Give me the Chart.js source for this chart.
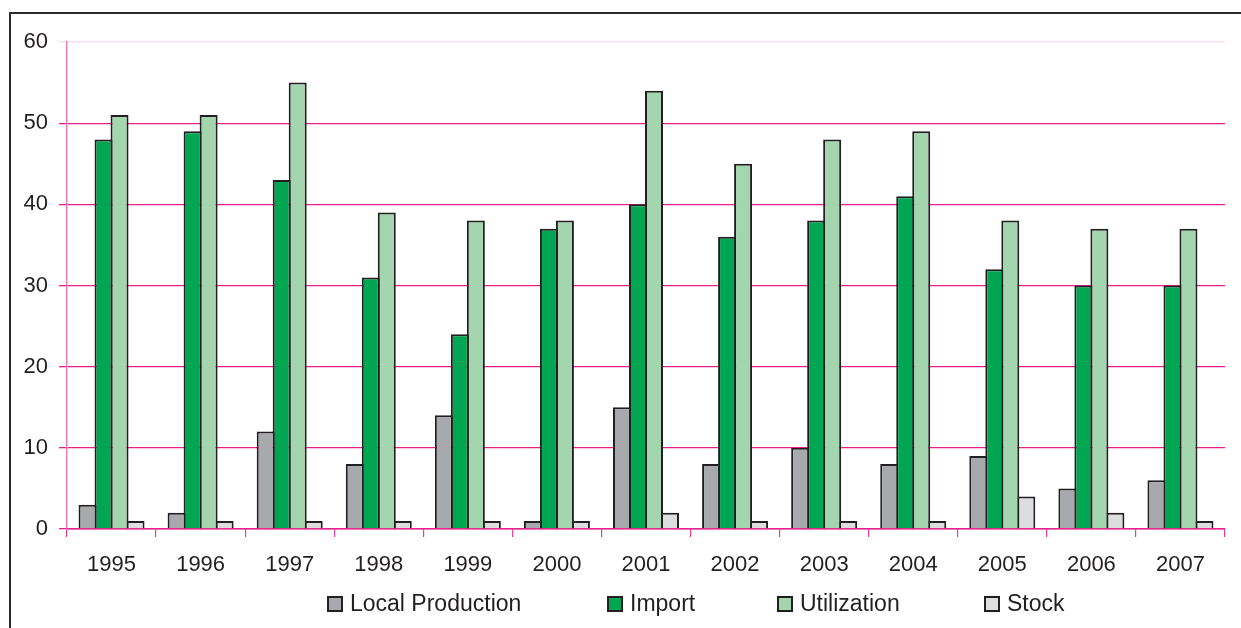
<!DOCTYPE html>
<html>
<head>
<meta charset="utf-8">
<script src="https://cdn.jsdelivr.net/npm/chart.js@4.4.1/dist/chart.umd.min.js"></script>
<style>
  html, body { margin: 0; padding: 0; background: #ffffff; }
  #wrap { position: relative; width: 1241px; height: 628px; }
  #frame {
    position: absolute; left: 9px; top: 12px; right: 0; bottom: 0;
    border-left: 2.5px solid #2b2a2a; border-top: 2.5px solid #2b2a2a;
    pointer-events: none;
  }
</style>
</head>
<body>
<div id="wrap">
  <canvas id="c" width="1241" height="628"></canvas>
  <div id="frame"></div>
</div>
<script>
// Years on the category axis
const years = ['1995','1996','1997','1998','1999','2000','2001','2002','2003','2004','2005','2006','2007'];

// Series values
const localProduction = [3, 2, 12, 8, 14, 1, 15, 8, 10, 8, 9, 5, 6];
const importValues    = [48, 49, 43, 31, 24, 37, 40, 36, 38, 41, 32, 30, 30];
const utilization     = [51, 51, 55, 39, 38, 38, 54, 45, 48, 49, 38, 37, 37];
const stock           = [1, 1, 1, 1, 1, 1, 2, 1, 1, 1, 4, 2, 1];

// Series names and colours
const seriesNames  = ['Local Production', 'Import', 'Utilization', 'Stock'];
const seriesColors = ['#a7a9ac', '#00a651', '#a3d5ae', '#dcdddf'];

// Value axis ticks
const yTicks = [0, 10, 20, 30, 40, 50, 60];

const INK = '#231f20';
const FONT = '"Liberation Sans", Arial, sans-serif';

// Legend drawn below the axis with fixed item positions
const legendX = [328, 608, 778, 985];
const legendPlugin = {
  id: 'bottomLegend',
  afterDraw(chart) {
    const ctx = chart.ctx;
    const cy = 604;
    ctx.save();
    ctx.font = '23px ' + FONT;
    ctx.textBaseline = 'middle';
    ctx.textAlign = 'left';
    chart.data.datasets.forEach((ds, i) => {
      const x = legendX[i];
      ctx.fillStyle = ds.backgroundColor;
      ctx.fillRect(x, cy - 7, 14, 14);
      ctx.lineWidth = 2;
      ctx.strokeStyle = INK;
      ctx.strokeRect(x, cy - 7, 14, 14);
      ctx.fillStyle = INK;
      ctx.fillText(ds.label, x + 22, cy + 1);
    });
    ctx.restore();
  }
};

// Neighbouring bars overlap by their border width so shared edges stay single-width
const datasets = [localProduction, importValues, utilization, stock].map((vals, i) => ({
  label: seriesNames[i],
  data: vals,
  backgroundColor: seriesColors[i],
  borderColor: INK,
  borderWidth: { top: 2, left: 2, right: 2, bottom: 0 },
  borderSkipped: false,
  categoryPercentage: 0.7185,
  barPercentage: 1.125
}));

new Chart(document.getElementById('c'), {
  type: 'bar',
  data: { labels: years, datasets },
  plugins: [legendPlugin],
  options: {
    responsive: false,
    animation: false,
    events: [],
    layout: { padding: { top: 42, right: 16, left: 0, bottom: 0 } },
    plugins: {
      legend: { display: false },
      tooltip: { enabled: false },
      title: { display: false }
    },
    scales: {
      x: {
        offset: true,
        grid: {
          offset: true,
          drawOnChartArea: false,
          drawTicks: true,
          tickLength: 8,
          color: '#ea3b95',
          lineWidth: 1.2
        },
        border: { display: true, color: '#e9208c', width: 1.5 },
        ticks: {
          color: INK,
          font: { family: FONT, size: 22 },
          padding: 15,
          maxRotation: 0
        },
        afterFit(scale) { scale.height = 99; }
      },
      y: {
        min: 0,
        max: 60,
        afterBuildTicks(scale) { scale.ticks = yTicks.map(v => ({ value: v })); },
        grid: {
          color: ctx => (ctx.tick && ctx.tick.value === 60) ? '#fbdcec' : '#e9208c',
          lineWidth: 1.3,
          drawTicks: true,
          tickLength: 8
        },
        border: { display: true, color: '#f07cb6', width: 1.5 },
        ticks: {
          color: INK,
          font: { family: FONT, size: 22 },
          padding: 11
        },
        afterFit(scale) { scale.width = 67; }
      }
    }
  }
});
</script>
</body>
</html>
